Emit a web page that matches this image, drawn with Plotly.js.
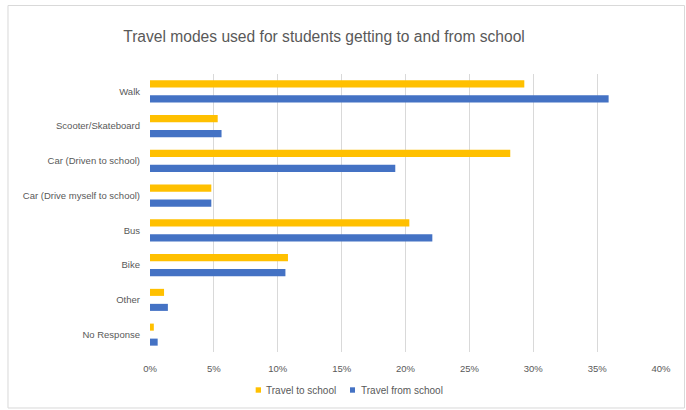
<!DOCTYPE html>
<html>
<head>
<meta charset="utf-8">
<script src="https://cdn.plot.ly/plotly-3.0.1.min.js"></script>
<style>html,body{margin:0;padding:0;background:#fff;}#chart{width:686px;height:410px;}</style>
</head>
<body>
<div id="chart"></div>
<script>
const categories = ["Walk", "Scooter/Skateboard", "Car (Driven to school)", "Car (Drive myself to school)", "Bus", "Bike", "Other", "No Response"];
const travelTo = [29.3, 5.3, 28.2, 4.8, 20.3, 10.8, 1.1, 0.3];
const travelFrom = [35.9, 5.6, 19.2, 4.8, 22.1, 10.6, 1.4, 0.6];
const seriesNames = ["Travel to school", "Travel from school"];
const seriesColors = ["#FFC000", "#4472C4"];
const xTickVals = [0, 5, 10, 15, 20, 25, 30, 35, 40];
const xTickText = ["0%", "5%", "10%", "15%", "20%", "25%", "30%", "35%", "40%"];

const font = "'Liberation Sans', Arial, sans-serif";
const traces = [
  {type: "bar", orientation: "h", name: seriesNames[0], y: categories, x: travelTo,
   marker: {color: seriesColors[0]}, showlegend: false},
  {type: "bar", orientation: "h", name: seriesNames[1], y: categories, x: travelFrom,
   marker: {color: seriesColors[1]}, showlegend: false}
];

// custom legend (small squares + labels), placed in paper coordinates
const legendSquares = [[0.2068, 0.2172], [0.3914, 0.4012]];
const legendTextX = [0.2231, 0.409];
const shapes = [{type: "rect", xref: "paper", yref: "paper", x0: -0.2779, x1: 1.0460, y0: -0.2014, y1: 1.2464,
    line: {color: "#D9D9D9", width: 1}, fillcolor: "rgba(0,0,0,0)", layer: "below"}];
const annotations = [];
seriesNames.forEach((n, i) => {
  shapes.push({type: "rect", xref: "paper", yref: "paper", x0: legendSquares[i][0], x1: legendSquares[i][1],
    y0: -0.1464, y1: -0.1270, line: {width: 0}, fillcolor: seriesColors[i]});
  annotations.push({xref: "paper", yref: "paper", x: legendTextX[i], y: -0.1367, xanchor: "left", yanchor: "middle",
    text: n, showarrow: false, font: {size: 10, color: "#595959"}});
});

const layout = {
  width: 686, height: 410,
  margin: {l: 150, r: 25, t: 74, b: 58, pad: 0},
  paper_bgcolor: "#fff", plot_bgcolor: "#fff",
  font: {family: font, color: "#595959", size: 9.5},
  title: {text: "Travel modes used for students getting to and from school",
    font: {family: font, size: 15.6, color: "#595959"},
    xref: "container", x: 0.4723, xanchor: "center",
    yref: "container", y: 0.91, yanchor: "middle"},
  barmode: "group", bargap: 0.137, bargroupgap: 0.53,
  xaxis: {range: [0, 40], tickmode: "array", tickvals: xTickVals, ticktext: xTickText, showgrid: true,
    gridcolor: "#D9D9D9", gridwidth: 1, zeroline: false, showline: false, ticks: "",
    ticklabelstandoff: 9, tickfont: {size: 9.5, color: "#595959"}, fixedrange: true},
  yaxis: {type: "category", autorange: "reversed", showgrid: false, zeroline: false,
    showline: false, ticks: "", ticklabelstandoff: 9, tickfont: {size: 9.5, color: "#595959"}, fixedrange: true},
  showlegend: false,
  shapes: shapes,
  annotations: annotations
};
Plotly.newPlot("chart", traces, layout, {displayModeBar: false, staticPlot: true});
</script>
</body>
</html>
